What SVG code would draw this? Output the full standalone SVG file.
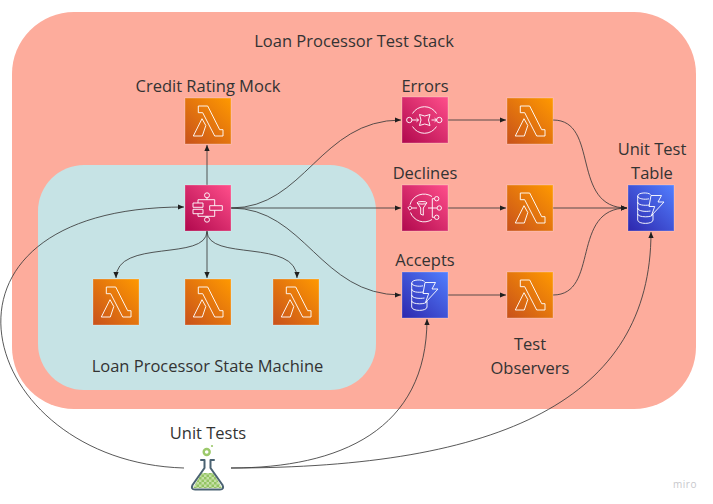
<svg xmlns="http://www.w3.org/2000/svg" width="713" height="504" viewBox="0 0 713 504">
<style>
text{font-family:"Open Sans","Noto Sans","DejaVu Sans",sans-serif;font-size:16.500px;fill:#333;text-anchor:middle}
.c{fill:none;stroke:#3a3a3a;stroke-width:.85;marker-end:url(#a)}
.g{fill:none;stroke:#fff;stroke-width:1;stroke-linejoin:round;stroke-opacity:.92}
.b{stroke:#fff;stroke-opacity:.25;stroke-width:1}
</style>
<defs>
<marker id="a" viewBox="0 0 6 6" refX="6" refY="3" markerUnits="userSpaceOnUse" markerWidth="6" markerHeight="6" orient="auto"><path d="M0,0.400L6,3L0,5.600z" fill="#1f1f1f"/></marker>
<linearGradient id="o" x1="0" y1="1" x2="1" y2="0"><stop offset="0" stop-color="#c8511b"/><stop offset="1" stop-color="#f90"/></linearGradient>
<linearGradient id="p" x1="0" y1="1" x2="1" y2="0"><stop offset="0" stop-color="#b0084d"/><stop offset="1" stop-color="#ff4f8b"/></linearGradient>
<linearGradient id="u" x1="0" y1="1" x2="1" y2="0"><stop offset="0" stop-color="#2e27ad"/><stop offset="1" stop-color="#527fff"/></linearGradient>
<pattern id="k" width="5" height="5" patternUnits="userSpaceOnUse" x="194" y="472"><rect width="5" height="5" fill="#c6e0a6"/><rect width="2.500" height="2.500" fill="#93c463"/><rect x="2.500" y="2.500" width="2.500" height="2.500" fill="#93c463"/></pattern>
<g id="lambda"><rect class="b" width="46" height="46" fill="url(#o)"/><path class="g" d="M13.300,8H22.700L34.700,31.700H38V38H29.700L17.700,14.700H13.300zM17,20.700L20.800,27.500L17.300,38H8.300z"/></g>
<g id="dynamo"><rect class="b" width="46" height="46" fill="url(#u)"/><g class="g"><path d="M22.500,9.500C20,7 9.700,7.500 9.700,11V35C9.700,39.500 25,39.500 25,35V29.500"/><path d="M9.700,11C9.700,14 17,14.800 21,13.800M9.700,17C9.700,20 16,20.800 21.500,20M9.700,23C9.700,26 17,27 22.500,26M9.700,29C9.700,32.500 25,33 25,29"/><path d="M23,10.500H33.500L30,17H36L23.500,30.500L26.700,21.500H21z"/></g></g>
</defs>
<rect width="713" height="504" fill="#fff"/>
<rect x="12" y="12" width="684" height="397" rx="62" fill="#fdac9c"/>
<rect x="38" y="165" width="338" height="225" rx="46" fill="#c6e3e5"/>
<text x="354" y="47">Loan Processor Test Stack</text>
<text x="207.500" y="372">Loan Processor State Machine</text>
<g id="connectors">
<path class="c" d="M207,185V145"/>
<path class="c" d="M207,231C207,262 116,238 116,278"/>
<path class="c" d="M207,231V278"/>
<path class="c" d="M207,231C207,262 297,238 297,278"/>
<path class="c" d="M231,208C305,208 320,120 401,120"/>
<path class="c" d="M231,208H401"/>
<path class="c" d="M231,208C305,208 320,295 401,295"/>
<path class="c" d="M448,120H506"/>
<path class="c" d="M448,208H506"/>
<path class="c" d="M448,295H506"/>
<path class="c" d="M553,120C600,120 570,208 627,208"/>
<path class="c" d="M553,208H627"/>
<path class="c" d="M553,295C600,295 570,208 627,208"/>
<path class="c" d="M184,468C-24,462 -94,207 184,207"/>
<path class="c" d="M231,468C340,468 427,430 427,319"/>
<path class="c" d="M231,468C500,468 651,400 651,232"/>
</g>
<g id="credit"><text x="208" y="92">Credit Rating Mock</text><use href="#lambda" x="185" y="98"/></g>
<g id="sfn"><rect class="b" x="185" y="185" width="46" height="46" fill="url(#p)"/><g class="g"><circle cx="207" cy="195.300" r="2.500"/><circle cx="207" cy="219.700" r="2.500"/><path d="M207,197.800V199.700M207,216.300V217.200M198,203V199.700H214.700V205.700M198,213.700V216.300H214.700V210.300"/><rect x="193" y="203" width="10" height="4.300"/><rect x="193" y="209.300" width="10" height="4.400"/><rect x="209.700" y="205.700" width="12.600" height="4.600"/></g></g>
<g id="errors"><text x="425" y="92">Errors</text><rect class="b" x="402" y="97" width="46" height="46" fill="url(#p)"/><g class="g"><circle cx="409.300" cy="120" r="2.700"/><circle cx="439.300" cy="120" r="2.700"/><path d="M412,120H418.500M416.500,118.200L418.500,120L416.500,121.800M431.500,120H436.600M434.600,118.200L436.600,120L434.600,121.800"/><path d="M419.500,114.500Q424.700,117.500 430,114.500Q427,120 430,125.500Q424.700,122.500 419.500,125.500Q422.500,120 419.500,114.500z"/><path d="M412.500,113.500A14,14 0 0 1 436.500,113.500M412.500,126.500A14,14 0 0 0 436.500,126.500"/></g></g>
<g id="declines"><text x="425" y="179">Declines</text><rect class="b" x="402" y="185" width="46" height="46" fill="url(#p)"/><g class="g"><path d="M410,205.800L412.200,208L410,210.200L407.800,208z"/><path d="M412.200,208H417"/><ellipse cx="422" cy="202.800" rx="4.800" ry="1.300"/><path d="M417.200,202.800L420.700,208V214.200L423.300,215.200V208L426.800,202.800"/><path d="M428,208H437M432.300,198.700V217.300M432.300,198.700H434.500M432.300,217.300H434.500"/><circle cx="436.700" cy="198.700" r="2.200"/><circle cx="439.300" cy="208" r="2.200"/><circle cx="436.700" cy="217.300" r="2.200"/><path d="M410,204.700A14.500,14.500 0 0 1 432,196.500M410.500,212.500A14.500,14.500 0 0 0 432,219.500"/></g></g>
<g id="accepts"><text x="425" y="266">Accepts</text><use href="#dynamo" x="402" y="272"/></g>
<use id="obs1" href="#lambda" x="507" y="98"/>
<use id="obs2" href="#lambda" x="507" y="185"/>
<use id="obs3" href="#lambda" x="507" y="272"/>
<g id="observers"><text x="530" y="350">Test</text><text x="530" y="374">Observers</text></g>
<g id="table"><text x="652" y="155">Unit Test</text><text x="652" y="179">Table</text><use href="#dynamo" x="628" y="185"/></g>
<use id="l1" href="#lambda" x="93" y="279"/>
<use id="l2" href="#lambda" x="185" y="279"/>
<use id="l3" href="#lambda" x="273" y="279"/>
<g id="tests"><text x="208" y="439">Unit Tests</text>
<path d="M201.500,473H213.500L222,488H193z" fill="url(#k)"/>
<path d="M201,460H204.500V468L192.500,485Q190.500,489.500 195,489.500H220Q224.500,489.500 222.500,485L210.500,468V460H214" fill="none" stroke="#4a6272" stroke-width="2" stroke-linejoin="round" stroke-linecap="round"/>
<circle cx="206.700" cy="452" r="3" fill="none" stroke="#9cc96b" stroke-width="2.400"/><circle cx="212" cy="446" r="1.100" fill="#9cc96b"/></g>
<text x="685" y="488" style="font-size:10px;fill:#c8c8cc;letter-spacing:.5px">miro</text>
</svg>
